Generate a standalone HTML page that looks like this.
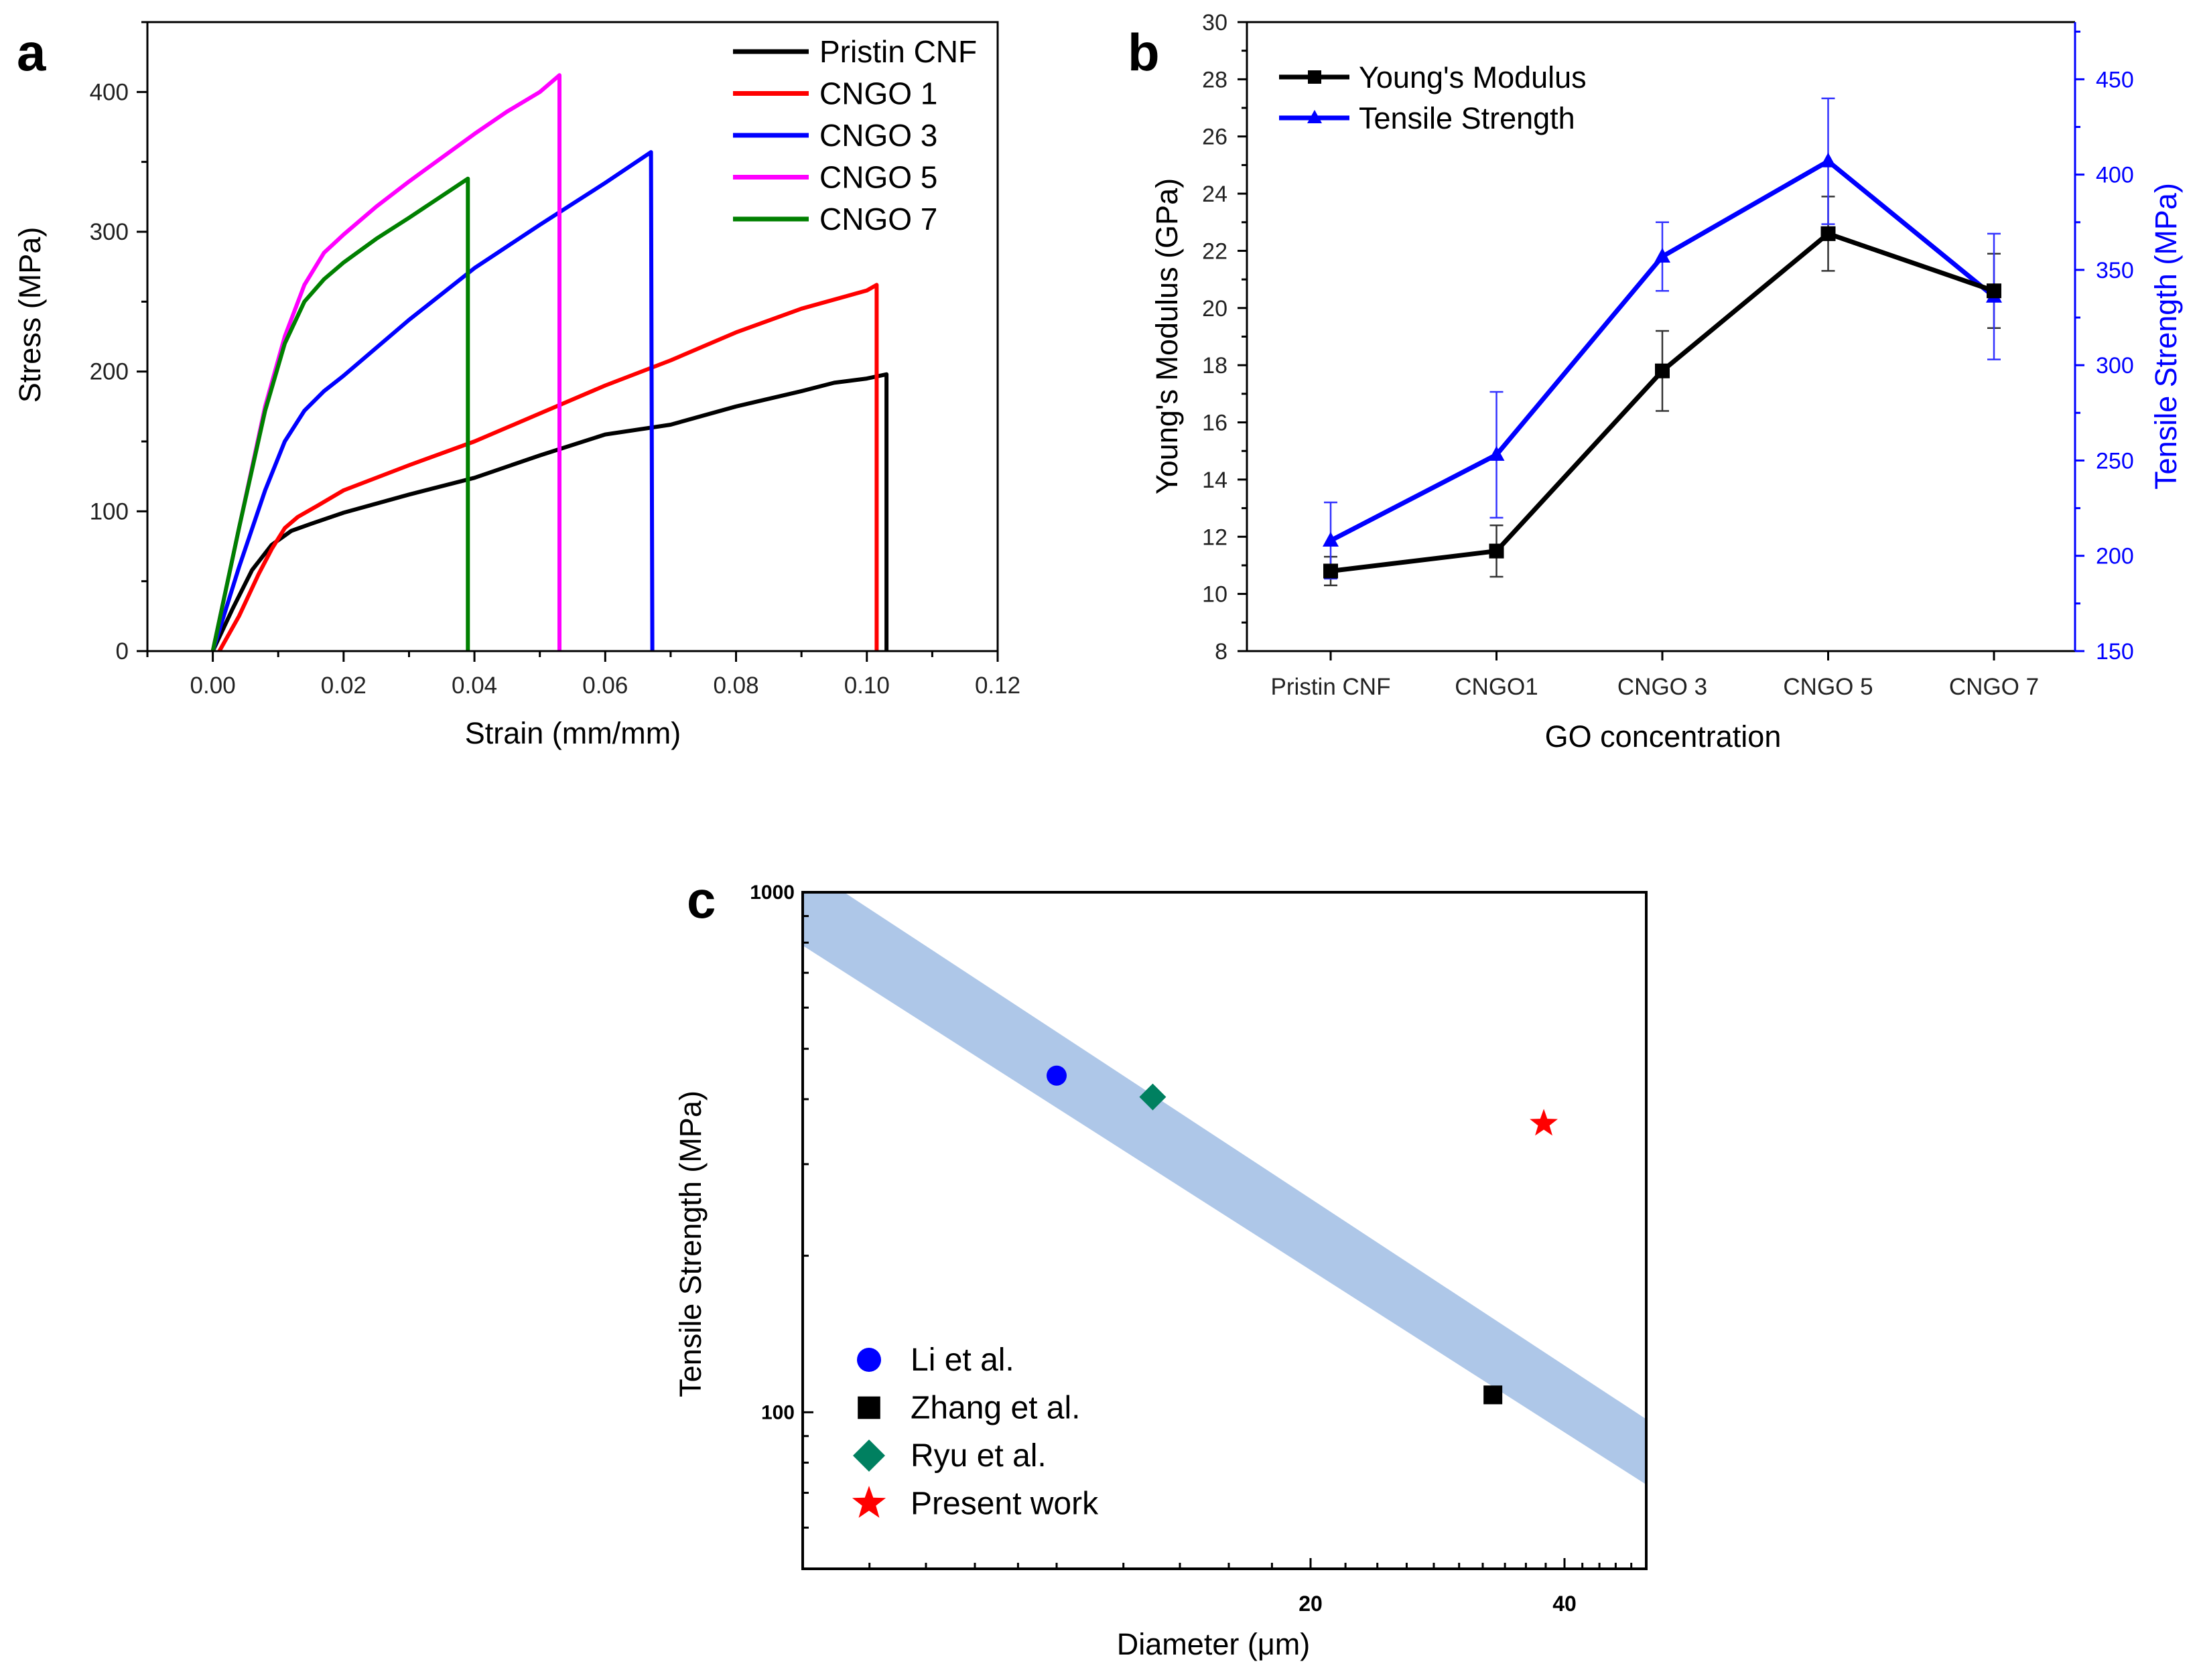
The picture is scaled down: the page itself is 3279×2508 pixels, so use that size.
<!DOCTYPE html>
<html><head><meta charset="utf-8"><style>
html,body{margin:0;padding:0;background:#fff}
svg{display:block}
text{font-family:"Liberation Sans",Arial,sans-serif}
</style></head><body>
<svg id="fig" width="3279" height="2508" viewBox="0 0 3279 2508" xmlns="http://www.w3.org/2000/svg"></svg>
<script>
// ---------- Panel a data ----------
const aSeriesNames = ["Pristin CNF","CNGO 1","CNGO 3","CNGO 5","CNGO 7"];
const aColors = ["#000000","#ff0000","#0000ff","#ff00ff","#008000"];
const aStrain = [
 [0,0.003,0.006,0.009,0.012,0.015,0.02,0.03,0.04,0.05,0.06,0.07,0.08,0.09,0.095,0.1,0.103,0.103],
 [0.001,0.004,0.007,0.009,0.011,0.013,0.016,0.02,0.03,0.04,0.05,0.06,0.07,0.08,0.09,0.1,0.1015,0.1015],
 [0,0.004,0.008,0.011,0.014,0.017,0.02,0.03,0.04,0.05,0.06,0.067,0.0672],
 [0,0.004,0.008,0.011,0.014,0.017,0.02,0.025,0.03,0.04,0.045,0.05,0.053,0.053],
 [0,0.004,0.008,0.011,0.014,0.017,0.02,0.025,0.03,0.039,0.039]
];
const aStress = [
 [0,30,58,76,86,91,99,112,124,140,155,162,175,186,192,195,198,0],
 [0,25,55,73,88,96,104,115,133,150,170,190,208,228,245,258,262,0],
 [0,60,115,150,172,186,197,237,274,305,335,357,0],
 [0,88,175,225,262,285,298,318,336,370,386,400,412,0],
 [0,88,172,220,250,266,278,295,310,338,0]
];
const aXTicks = [0,0.02,0.04,0.06,0.08,0.10,0.12];
const aXTickLabels = ["0.00","0.02","0.04","0.06","0.08","0.10","0.12"];
const aYTicks = [0,100,200,300,400];
// ---------- Panel b data ----------
const bCategories = ["Pristin CNF","CNGO1","CNGO 3","CNGO 5","CNGO 7"];
const bModulus = [10.8,11.5,17.8,22.6,20.6];
const bModulusErr = [0.5,0.9,1.4,1.3,1.3];
const bStrength = [208,253,357,407,336];
const bStrengthErr = [20,33,18,33,33];
const bLeftTicks = [8,10,12,14,16,18,20,22,24,26,28,30];
const bRightTicks = [150,200,250,300,350,400,450];
// ---------- Panel c data ----------
const cNames = ["Li et al.","Zhang et al.","Ryu et al.","Present work"];
const cDiameter = [10,32.9,13.0,37.8];
const cStrength = [444,108,404,359];
const cBandUpper = [[5,1128],[50,97]];
const cBandLower = [[5,790],[50,72.6]];
const cXTickVals = [20,40];

const NS="http://www.w3.org/2000/svg";
const svg=document.getElementById('fig');
function el(tag,attrs,parent,txt){const e=document.createElementNS(NS,tag);for(const k in attrs)e.setAttribute(k,attrs[k]);if(txt!==undefined)e.textContent=txt;(parent||svg).appendChild(e);return e;}

// ===== Panel a =====
const ga=el('g',{});


const aL=220,aR=1489,aT=33,aB=972;
const ax=v=>aL+(v+0.01)/0.13*(aR-aL);
const ay=v=>aB-v/450*(aB-aT);
let t=el('text',{x:25,y:105,'font-size':78,'font-weight':'bold'},ga,'a');

aSeriesNames.forEach((n,i)=>{
  const pts=aStrain[i].map((s,j)=>ax(s).toFixed(1)+','+ay(aStress[i][j]).toFixed(1)).join(' ');
  const p=el('polyline',{points:pts,fill:'none',stroke:aColors[i],'stroke-width':6,'stroke-linejoin':'round'},ga);
  
  
});
let fr=el('rect',{x:aL,y:aT,width:aR-aL,height:aB-aT,fill:'none',stroke:'#000','stroke-width':3},ga);

for(let v=-0.01;v<=0.1201;v+=0.01){const x=ax(v);const major=Math.abs(Math.round(v*100)%2)===0;el('line',{x1:x,x2:x,y1:aB,y2:aB+(major?16:9),stroke:'#000','stroke-width':3},ga);}
aXTicks.forEach((v,i)=>{const tx=el('text',{x:ax(v),y:1035,'font-size':35,'text-anchor':'middle',fill:'#222'},ga,aXTickLabels[i]);});
for(let v=0;v<=450;v+=50){const y=ay(v);const major=v%100===0;el('line',{x1:aL,x2:aL-(major?16:9),y1:y,y2:y,stroke:'#000','stroke-width':3},ga);}
aYTicks.forEach(v=>{const tx=el('text',{x:192,y:ay(v)+12,'font-size':35,'text-anchor':'end',fill:'#222'},ga,String(v));});
t=el('text',{x:855,y:1110,'font-size':45,'text-anchor':'middle'},ga,'Strain (mm/mm)');
t=el('text',{x:60,y:470,'font-size':45,'text-anchor':'middle',transform:'rotate(-90 60 470)'},ga,'Stress (MPa)');
aSeriesNames.forEach((n,i)=>{
  const y=77+i*62.5;
  const g=el('g',{},ga);
  el('line',{x1:1094,x2:1207,y1:y,y2:y,stroke:aColors[i],'stroke-width':7},g);
  el('text',{x:1223,y:y+16,'font-size':46},g,n);
});

// ===== Panel b =====
const gb=el('g',{});


const bL=1861,bR=3097,bT=33,bB=972;
const bx=i=>1986+i*247.5;
const byL=v=>bB-(v-8)/22*(bB-bT);
const byR=v=>bB-(v-150)/330*(bB-bT);
t=el('text',{x:1683,y:105,'font-size':78,'font-weight':'bold'},gb,'b');
el('line',{x1:bL,x2:bR,y1:bT,y2:bT,stroke:'#000','stroke-width':3},gb);
el('line',{x1:bL,x2:bR,y1:bB,y2:bB,stroke:'#000','stroke-width':3},gb);
el('line',{x1:bL,x2:bL,y1:bT,y2:bB,stroke:'#000','stroke-width':3},gb);
el('line',{x1:bR,x2:bR,y1:bT,y2:bB,stroke:'#0000ff','stroke-width':3},gb);
for(let v=8;v<=30;v+=1){const y=byL(v);const major=v%2===0;el('line',{x1:bL,x2:bL-(major?14:8),y1:y,y2:y,stroke:'#000','stroke-width':3},gb);}
bLeftTicks.forEach(v=>{const tx=el('text',{x:1832,y:byL(v)+12,'font-size':34,'text-anchor':'end',fill:'#222'},gb,String(v));});
for(let v=150;v<=475;v+=25){const y=byR(v);const major=v%50===0;el('line',{x1:bR,x2:bR+(major?14:8),y1:y,y2:y,stroke:'#0000ff','stroke-width':3},gb);}
bRightTicks.forEach(v=>{const tx=el('text',{x:3128,y:byR(v)+12,'font-size':34,fill:'#0000ff'},gb,String(v));});
bCategories.forEach((c,i)=>{el('line',{x1:bx(i),x2:bx(i),y1:bB,y2:bB+14,stroke:'#000','stroke-width':3},gb);const tx=el('text',{x:bx(i),y:1037,'font-size':35,'text-anchor':'middle',fill:'#222'},gb,c);});
bModulus.forEach((v,i)=>{const x=bx(i);const g=el('g',{stroke:'#333','stroke-width':2.5},gb);
 el('line',{x1:x,x2:x,y1:byL(v-bModulusErr[i]),y2:byL(v+bModulusErr[i])},g);
 [v-bModulusErr[i],v+bModulusErr[i]].forEach(e=>el('line',{x1:x-10,x2:x+10,y1:byL(e),y2:byL(e)},g));});
bStrength.forEach((v,i)=>{const x=bx(i);const g=el('g',{stroke:'#3333ff','stroke-width':2.5},gb);
 el('line',{x1:x,x2:x,y1:byR(v-bStrengthErr[i]),y2:byR(v+bStrengthErr[i])},g);
 [v-bStrengthErr[i],v+bStrengthErr[i]].forEach(e=>el('line',{x1:x-10,x2:x+10,y1:byR(e),y2:byR(e)},g));});
let pl=el('polyline',{points:bStrength.map((v,i)=>bx(i)+','+byR(v)).join(' '),fill:'none',stroke:'#0000ff','stroke-width':7},gb);

pl=el('polyline',{points:bModulus.map((v,i)=>bx(i)+','+byL(v)).join(' '),fill:'none',stroke:'#000','stroke-width':7},gb);

bStrength.forEach((v,i)=>{const x=bx(i),y=byR(v);const m=el('polygon',{points:`${x},${y-13} ${x-12},${y+9} ${x+12},${y+9}`,fill:'#0000ff'},gb);});
bModulus.forEach((v,i)=>{const x=bx(i),y=byL(v);const m=el('rect',{x:x-11,y:y-11,width:22,height:22,fill:'#000'},gb);});
t=el('text',{x:2482,y:1115,'font-size':45,'text-anchor':'middle'},gb,'GO concentration');
t=el('text',{x:1757,y:502,'font-size':45,'text-anchor':'middle',transform:'rotate(-90 1757 502)'},gb,"Young's Modulus (GPa)");
t=el('text',{x:3248,y:502,'font-size':45,'text-anchor':'middle',fill:'#0000ff',transform:'rotate(-90 3248 502)'},gb,'Tensile Strength (MPa)');
let lg=el('g',{},gb);
el('line',{x1:1909,x2:2014,y1:115,y2:115,stroke:'#000','stroke-width':7},lg);el('rect',{x:1952,y:105,width:20,height:20,fill:'#000'},lg);el('text',{x:2028,y:131,'font-size':45},lg,"Young's Modulus");
lg=el('g',{},gb);
el('line',{x1:1909,x2:2014,y1:176,y2:176,stroke:'#0000ff','stroke-width':7},lg);el('polygon',{points:'1962,164 1951,184 1973,184',fill:'#0000ff'},lg);el('text',{x:2028,y:192,'font-size':45},lg,'Tensile Strength');

// ===== Panel c =====
const gc=el('g',{});


const cL=1198,cR=2457,cT=1332,cB=2342;
const cx=v=>cL+Math.log10(v/5)*(cR-cL);
const cy=v=>cB-(Math.log10(v)-Math.log10(50))/(Math.log10(1000)-Math.log10(50))*(cB-cT);
el('clipPath',{id:'cclip'},gc);
el('rect',{x:cL,y:cT,width:cR-cL,height:cB-cT},document.getElementById('cclip'));
const band=el('polygon',{points:[cBandUpper[0],cBandUpper[1],cBandLower[1],cBandLower[0]].map(p=>cx(p[0])+','+cy(p[1])).join(' '),fill:'#aec7e8','clip-path':'url(#cclip)'},gc);

fr=el('rect',{x:cL,y:cT,width:cR-cL,height:cB-cT,fill:'none',stroke:'#000','stroke-width':4},gc);

[6,7,8,9,10,12,14,16,18,20,22,24,26,28,30,32,34,36,38,40,42,44,46,48].forEach(v=>{const major=v===20||v===40;el('line',{x1:cx(v),x2:cx(v),y1:cB,y2:cB-(major?16:9),stroke:'#000','stroke-width':3},gc);});
cXTickVals.forEach(v=>{const tx=el('text',{x:cx(v),y:2405,'font-size':32,'font-weight':'bold','text-anchor':'middle','font-family':'Liberation Serif, serif'},gc,String(v));});
[60,70,80,90,100,200,300,400,500,600,700,800,900,1000].forEach(v=>{const major=v===100||v===1000;el('line',{x1:cL,x2:cL+(major?16:9),y1:cy(v),y2:cy(v),stroke:'#000','stroke-width':3},gc);});
[100,1000].forEach(v=>{const tx=el('text',{x:1186,y:cy(v)+10,'font-size':30,'font-weight':'bold','text-anchor':'end','font-family':'Liberation Serif, serif'},gc,String(v));});
function marker(k,x,y,s,parent){
  if(k===0) return el('circle',{cx:x,cy:y,r:s*0.75,fill:'#0000ff'},parent);
  if(k===1) return el('rect',{x:x-s*0.7,y:y-s*0.7,width:s*1.4,height:s*1.4,fill:'#000'},parent);
  if(k===2) return el('polygon',{points:`${x},${y-s} ${x+s},${y} ${x},${y+s} ${x-s},${y}`,fill:'#008060'},parent);
  let p=[];for(let i=0;i<10;i++){const r=i%2?s*0.45:s*1.1;const a=-Math.PI/2+i*Math.PI/5;p.push((x+r*Math.cos(a)).toFixed(1)+','+(y+r*Math.sin(a)).toFixed(1));}
  return el('polygon',{points:p.join(' '),fill:'#ff0000'},parent);
}
cNames.forEach((n,i)=>{const m=marker(i,cx(cDiameter[i]),cy(cStrength[i]),20,gc);});
cNames.forEach((n,i)=>{const y=2030+i*71.5;const g=el('g',{},gc);marker(i,1297,y,24,g);el('text',{x:1359,y:y+16,'font-size':48},g,n);});
t=el('text',{x:1025,y:1370,'font-size':78,'font-weight':'bold'},gc,'c');
t=el('text',{x:1811,y:2470,'font-size':45,'text-anchor':'middle'},gc,'Diameter (μm)');
t=el('text',{x:1046,y:1857,'font-size':45,'text-anchor':'middle',transform:'rotate(-90 1046 1857)'},gc,'Tensile Strength (MPa)');
</script>
</body></html>
